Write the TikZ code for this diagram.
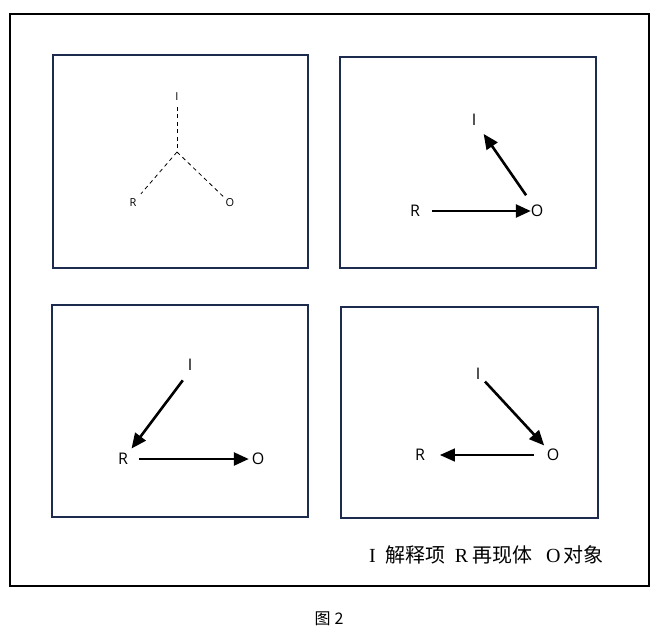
\documentclass[tikz,border=0pt]{standalone}
\usepackage{fontspec}
\setmainfont{Liberation Serif}
\newfontfamily\cjk{Noto Sans CJK SC}
\newfontfamily\signfont{Open Sans}
\usetikzlibrary{arrows.meta}
\definecolor{panelblue}{HTML}{1C2B4E}

\begin{document}
\begin{tikzpicture}[x=1pt,y=-1pt,
  >={Triangle[length=15pt,width=13pt]},
  panel/.style={draw=panelblue,line width=2pt},
  sign/.style={font=\signfont\fontsize{16}{19}\selectfont,inner sep=0pt,outer sep=0pt},
  small sign/.style={font=\signfont\fontsize{11}{13}\selectfont,inner sep=0pt,outer sep=0pt},
  tie/.style={line width=0.8pt,dash pattern=on 4pt off 3.5pt},
  link/.style={->,line width=2.6pt},
  thin link/.style={->,line width=1.6pt}
]
  \useasboundingbox (0,0) rectangle (660,638);
  \draw[line width=2.5pt] (10,14) rectangle (649,586);

  \draw[panel] (53,55) rectangle (308,268);
  \draw[panel] (340,57) rectangle (596,268);
  \draw[panel] (52,305) rectangle (308,517);
  \draw[panel] (341,307) rectangle (598,518);

  % triad without direction
  \node[small sign] (I-1) at (177,97) {I};
  \node[small sign] (R-1) at (133,203) {R};
  \node[small sign] (O-1) at (230,203) {O};
  \coordinate (J-1) at (177,152);
  \draw[tie] (I-1) edge[shorten <=6pt] (J-1)
             (J-1) edge[shorten >=7pt] (R-1)
             (J-1) edge[shorten >=2pt] (O-1);

  \node[sign] (I-2) at (474,120) {I};
  \node[sign] (R-2) at (415,211) {R};
  \node[sign] (O-2) at (537,211) {O};
  \draw[link,shorten <=12pt] (R-2) -- (O-2);
  \draw[link,shorten <=12pt,shorten >=13pt] (O-2) -- (I-2);

  \node[sign] (I-3) at (190,365) {I};
  \node[sign] (R-3) at (123,459) {R};
  \node[sign] (O-3) at (258,459) {O};
  \draw[link,shorten <=12pt,shorten >=6pt] (I-3.south) -- (R-3.north east);
  \draw[link,shorten <=11pt,shorten >=3pt] (R-3) -- (O-3);

  \node[sign] (I-4) at (478,374) {I};
  \node[sign] (R-4) at (420,455) {R};
  \node[sign] (O-4) at (553,455) {O};
  \draw[link,shorten <=7pt,shorten >=5pt] (I-4) -- (O-4);
  \draw[thin link,shorten <=13pt,shorten >=15pt] (O-4) -- (R-4);

  \node[anchor=west,inner sep=0pt,font=\fontsize{20}{23}\selectfont] (legend) at (369,555)
    {I\hspace{10pt}{\cjk 解释项}\hspace{9pt}R\hspace{4pt}{\cjk 再现体}\hspace{14pt}O\hspace{3pt}{\cjk 对象}};
  \node[font=\cjk\fontsize{16}{18}\selectfont] (caption) at (329,619) {图\hspace{4pt}2};
\end{tikzpicture}
\end{document}
